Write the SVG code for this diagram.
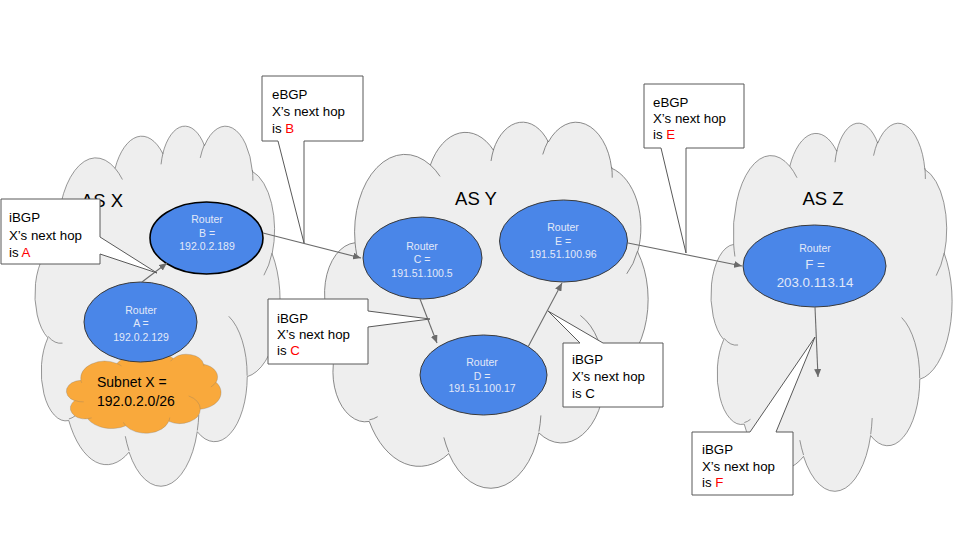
<svg xmlns="http://www.w3.org/2000/svg" xmlns:xlink="http://www.w3.org/1999/xlink" width="974" height="547" viewBox="0 0 974 547">
<style>
text{font-family:"Liberation Sans",Arial,sans-serif}
.cloud{fill:#eeeeee;stroke:#6b6b6b;stroke-width:1;vector-effect:non-scaling-stroke}
.curl{fill:none;stroke:#6b6b6b;stroke-width:1;vector-effect:non-scaling-stroke}
.sub{fill:#f9a93c;stroke:#6b6b6b;stroke-width:1;vector-effect:non-scaling-stroke}
.router{fill:#4a86e8;stroke:#3a3a3a;stroke-width:1}
.rt{font-size:10.5px;fill:#e2e9f8;text-anchor:middle}
.rtb{font-size:13.3px;fill:#e2e9f8;text-anchor:middle}
.as{font-size:18.5px;fill:#000;text-anchor:middle}
.call{fill:#ffffff;stroke:#595959;stroke-width:1}
.ct{font-size:13.3px;fill:#000}
.red{fill:#ff0000}
.conn{fill:none;stroke:#6b6b6b;stroke-width:1.1;marker-end:url(#arr)}
</style>
<defs>
<marker id="arr" markerUnits="userSpaceOnUse" markerWidth="9" markerHeight="7" refX="8" refY="3.5" orient="auto">
<path d="M0,0 L8,3.5 L0,7 Z" fill="#6b6b6b"/>
</marker>
<path id="cloudP" d="M39.00,143.70 A67.53 91.90 0 0 1 140.02 51.99 A53.33 72.67 0 0 1 224.52 34.27 A43.65 59.45 0 0 1 298.29 24.77 A48.57 65.95 0 0 1 383.14 55.72 A53.33 72.73 0 0 1 418.14 154.56 A67.75 92.20 0 0 1 374.00 301.98 A57.85 78.67 0 0 1 285.50 368.07 A67.52 92.15 0 0 1 164.75 392.59 A77.20 105.43 0 0 1 58.01 354.65 A43.60 59.18 0 0 1 21.07 255.47 A43.45 59.45 0 0 1 39.00 143.70 Z"/>
<path id="curlP" d="M46.93 261.77 A43.45 59.45 0 0 1 21.57 253.78 M69.28 348.99 A43.60 59.18 0 0 1 58.22 352.79 M164.78 390.90 A67.52 92.15 0 0 1 158.10 373.48 M288.27 347.51 A67.52 92.15 0 0 1 285.60 366.60 M341.29 229.54 A57.85 78.67 0 0 1 373.79 300.88 M417.98 153.54 A53.33 72.73 0 0 1 403.48 180.33 M383.24 54.26 A48.57 65.95 0 0 1 384.00 66.90 M290.78 39.52 A48.57 65.95 0 0 1 298.20 23.41 M221.41 47.20 A43.65 59.45 0 0 1 225.00 33.30 M140.00 51.92 A67.53 91.90 0 0 1 153.01 65.41 M41.27 157.89 A67.53 91.90 0 0 1 39.00 143.70"/>
</defs>

<g id="cloud-as-x">
<g transform="translate(36,125) scale(0.5648,0.8333)"><use xlink:href="#cloudP" class="cloud"/><use xlink:href="#curlP" class="curl"/></g>
<text class="as" x="102" y="207">AS X</text>
</g>
<g id="cloud-as-y">
<g transform="translate(326,121) scale(0.7454,0.8472)"><use xlink:href="#cloudP" class="cloud"/><use xlink:href="#curlP" class="curl"/></g>
<text class="as" x="476" y="205">AS Y</text>
</g>
<g id="cloud-as-z">
<g transform="translate(712,122) scale(0.5556,0.8519)"><use xlink:href="#cloudP" class="cloud"/><use xlink:href="#curlP" class="curl"/></g>
<text class="as" x="823" y="205">AS Z</text>
</g>

<g id="subnet-x">
<g transform="translate(67,354) scale(0.3565,0.1829)"><use xlink:href="#cloudP" class="sub"/><use xlink:href="#curlP" class="curl"/></g>
<text class="ct" x="97" y="387" style="font-size:14px">Subnet X =</text>
<text class="ct" x="97" y="406" style="font-size:14px">192.0.2.0/26</text>
</g>

<g id="router-a">
<ellipse class="router" cx="140.5" cy="322" rx="56.5" ry="40"/>
<text class="rt" x="141" y="314">Router</text>
<text class="rt" x="141" y="327">A =</text>
<text class="rt" x="141" y="341">192.0.2.129</text>
</g>
<g id="router-b">
<ellipse class="router" cx="206.5" cy="238" rx="56.5" ry="36" style="stroke:#000;stroke-width:1.6"/>
<text class="rt" x="207" y="223">Router</text>
<text class="rt" x="207" y="237">B =</text>
<text class="rt" x="207" y="250">192.0.2.189</text>
</g>
<g id="router-c">
<ellipse class="router" cx="422.5" cy="258" rx="59.5" ry="41"/>
<text class="rt" x="422" y="250">Router</text>
<text class="rt" x="422" y="263">C =</text>
<text class="rt" x="422" y="277">191.51.100.5</text>
</g>
<g id="router-e">
<ellipse class="router" cx="563.5" cy="241" rx="64" ry="41"/>
<text class="rt" x="563" y="231">Router</text>
<text class="rt" x="563" y="245">E =</text>
<text class="rt" x="563" y="258">191.51.100.96</text>
</g>
<g id="router-d">
<ellipse class="router" cx="483.5" cy="375" rx="63.5" ry="40"/>
<text class="rt" x="482" y="366">Router</text>
<text class="rt" x="482" y="380">D =</text>
<text class="rt" x="482" y="392">191.51.100.17</text>
</g>
<g id="router-f">
<ellipse class="router" cx="814.5" cy="266" rx="71.5" ry="41"/>
<text class="rt" x="815" y="252">Router</text>
<text class="rtb" x="815" y="269">F =</text>
<text class="rtb" x="815" y="287">203.0.113.14</text>
</g>

<g id="connectors">
<path class="conn" d="M142,282 L167,263"/>
<path class="conn" d="M263,233 L361,258"/>
<path class="conn" d="M420,299 L437,343"/>
<path class="conn" d="M528,347 L562,283"/>
<path class="conn" d="M628,243 L742,266"/>
<path class="conn" d="M815,307 L818,377"/>
</g>

<g id="callout-ibgp-a">
<path class="call" d="M1,199 H100 V237 L157,273 L100,254 V264 H1 Z"/>
<text class="ct" x="9" y="222">iBGP</text>
<text class="ct" x="9" y="240">X’s next hop</text>
<text class="ct" x="9" y="257">is <tspan class="red">A</tspan></text>
</g>
<g id="callout-ebgp-b">
<path class="call" d="M262,76 H363 V141 H304 V243 L278,141 H262 Z"/>
<text class="ct" x="272" y="99">eBGP</text>
<text class="ct" x="272" y="116">X’s next hop</text>
<text class="ct" x="272" y="133">is <tspan class="red">B</tspan></text>
</g>
<g id="callout-ibgp-c1">
<path class="call" d="M268,299 H368 V311 L430,319 L368,327 V364 H268 Z"/>
<text class="ct" x="277" y="323">iBGP</text>
<text class="ct" x="277" y="339">X’s next hop</text>
<text class="ct" x="277" y="355">is <tspan class="red">C</tspan></text>
</g>
<g id="callout-ibgp-c2">
<path class="call" d="M563,343 H580 L548,311 L603,343 H663 V407 H563 Z"/>
<text class="ct" x="572" y="364">iBGP</text>
<text class="ct" x="572" y="381">X’s next hop</text>
<text class="ct" x="572" y="398">is C</text>
</g>
<g id="callout-ebgp-e">
<path class="call" d="M644,84 H744 V148 H686 V253 L661,148 H644 Z"/>
<text class="ct" x="653" y="107">eBGP</text>
<text class="ct" x="653" y="123">X’s next hop</text>
<text class="ct" x="653" y="139">is <tspan class="red">E</tspan></text>
</g>
<g id="callout-ibgp-f">
<path class="call" d="M692,432 H750 L815,337 L776,432 H793 V495 H692 Z"/>
<text class="ct" x="702" y="454">iBGP</text>
<text class="ct" x="702" y="471">X’s next hop</text>
<text class="ct" x="702" y="487">is <tspan class="red">F</tspan></text>
</g>
</svg>
